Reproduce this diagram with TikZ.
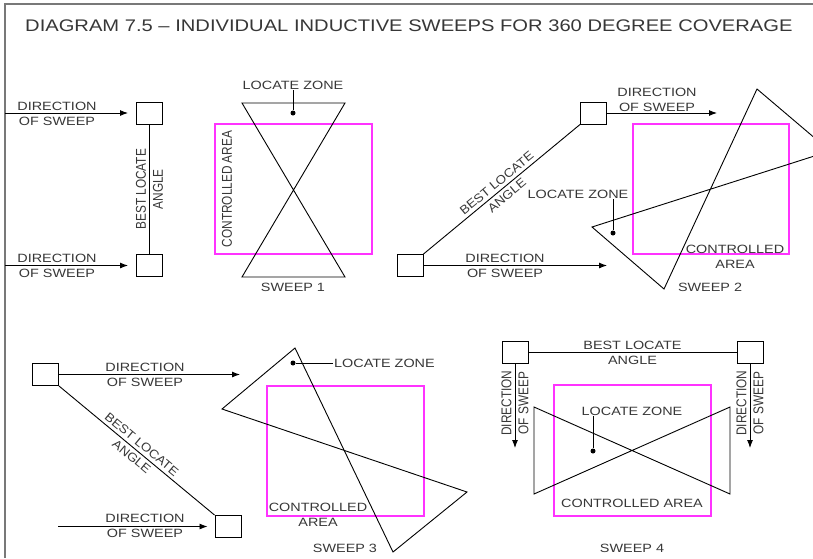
\documentclass[tikz,border=0pt]{standalone}
\usepackage{fontspec}
\setmainfont{Liberation Sans}[FakeStretch=1.2]
\newfontfamily\uprightfont{Liberation Sans}[FakeStretch=0.833]
\newfontfamily\slopefont{Liberation Sans}[FakeStretch=1.1]
\usepackage{tikz}
\usetikzlibrary{positioning,arrows.meta,calc}
\definecolor{FrameGrey}{RGB}{120,120,120}
\definecolor{TextGrey}{RGB}{55,55,55}
\definecolor{AreaMagenta}{RGB}{255,51,255}

\begin{document}
\begin{tikzpicture}[x=1pt, y=-1pt,
  every node/.style={font=\fontsize{12}{15}\selectfont, text=TextGrey, align=center, inner sep=1pt},
  title/.style={font=\fontsize{16.8}{19}\selectfont, anchor=base west},
  upright/.style={rotate=90, font=\uprightfont\fontsize{14.2}{17}\selectfont},
  slope/.style={sloped, font=\slopefont\fontsize{12.2}{16}\selectfont},
  sensor/.style={draw, line width=1pt, minimum width=26pt, minimum height=22pt, inner sep=0pt},
  area/.style={draw=AreaMagenta, line width=1.4pt},
  zone/.style={draw, line width=0.9pt, line join=miter},
  arrow/.style={-{Latex[length=8pt,width=6pt]}, line width=0.9pt},
  link/.style={line width=0.9pt},
  dot/.style={circle, fill=black, inner sep=0pt, minimum size=5pt}
]
\useasboundingbox (0,0) rectangle (813,558);

% Frame and title
\draw[FrameGrey, line width=1.6pt] (5,558) -- (5,4) -- (813,4);
\node[title] (ttl) at (24,31) {DIAGRAM 7.5 – INDIVIDUAL INDUCTIVE SWEEPS FOR 360 DEGREE COVERAGE};

% Sweep 1
\node[sensor] (s1top) at (149.5,113) {};
\node[sensor] (s1bot) at (149.5,265.5) {};
\coordinate (s1in1) at (5,113);
\coordinate (s1in2) at (5,265.5);
\draw[link] (s1bot) -- (s1top) node[midway, upright] {BEST LOCATE\\ANGLE};
\draw[arrow, shorten >=8pt] (s1in1) -- (s1top);
\draw[arrow, shorten >=8pt] (s1in2) -- (s1bot);
\node (s1dir1) at (57,113.5) {DIRECTION\\OF SWEEP};
\node (s1dir2) at (57,265.5) {DIRECTION\\OF SWEEP};
\draw[area] (215,124) rectangle (372,254);
\draw[zone] (242,103) -- (345,103) -- (242,277) -- (345,277) -- cycle;
\node (s1lz) at (293,85) {LOCATE ZONE};
\node[dot] (s1dot) at (293,113) {};
\draw[link] (s1lz) -- (s1dot);
\node[upright] (s1ca) at (227,189) {CONTROLLED AREA};
\node (s1name) at (293,287) {SWEEP 1};

% Sweep 2
\node[sensor] (s2low) at (410,265.5) {};
\node[sensor] (s2high) at (593.5,113) {};
\coordinate (s2out1) at (717,113);
\coordinate (s2out2) at (607,265.5);
\draw[link] (s2low.north east) -- (s2high.south west) node[midway, slope] {BEST LOCATE\\ANGLE};
\draw[arrow] (s2high) -- (s2out1);
\draw[arrow] (s2low) -- (s2out2);
\node (s2dir1) at (657,99.5) {DIRECTION\\OF SWEEP};
\node (s2dir2) at (505,265.5) {DIRECTION\\OF SWEEP};
\draw[area] (633,124) rectangle (789,254);
\begin{scope}
  \clip (0,0) rectangle (813,558);
  \draw[zone] (757,89) -- (830,151) -- (592,227) -- (664,289) -- cycle;
\end{scope}
\node (s2lz) at (578,194) {LOCATE ZONE};
\node[dot] (s2dot) at (613,233) {};
\draw[link] (s2lz.south -| s2dot) -- (s2dot);
\node (s2ca) at (735,256.5) {CONTROLLED\\AREA};
\node (s2name) at (710,287) {SWEEP 2};

% Sweep 3
\node[sensor] (s3high) at (45.5,374.5) {};
\node[sensor] (s3low) at (228,526.5) {};
\coordinate (s3out) at (240,374.5);
\coordinate (s3in) at (58,526.5);
\draw[link] (s3high.south east) -- (s3low.north west) node[midway, slope] {BEST LOCATE\\ANGLE};
\draw[arrow] (s3high) -- (s3out);
\draw[arrow, shorten >=7pt] (s3in) -- (s3low);
\node (s3dir1) at (145,374.5) {DIRECTION\\OF SWEEP};
\node (s3dir2) at (145,525.5) {DIRECTION\\OF SWEEP};
\draw[area] (267,386) rectangle (424,516);
\draw[zone] (295,348) -- (222,409) -- (467,492) -- (393,552) -- cycle;
\node[dot] (s3dot) at (293,363) {};
\node[anchor=west] (s3lz) at (333,363) {LOCATE ZONE};
\draw[link] (s3dot) -- (s3lz.west);
\node (s3ca) at (318,515) {CONTROLLED\\AREA};
\node (s3name) at (345,548) {SWEEP 3};

% Sweep 4
\node[sensor] (s4left) at (515,352.5) {};
\node[sensor] (s4right) at (750,352.5) {};
\coordinate (s4down1) at (515,448);
\coordinate (s4down2) at (750,448);
\draw[link] (s4left) -- (s4right) node[midway] {BEST LOCATE\\ANGLE};
\draw[arrow] (s4left) -- (s4down1);
\draw[arrow] (s4right) -- (s4down2);
\node[upright] (s4dir1) at (515,403) {DIRECTION\\OF SWEEP};
\node[upright] (s4dir2) at (750,403) {DIRECTION\\OF SWEEP};
\draw[area] (554,385) rectangle (711,516);
\draw[zone] (534,407) -- (730,494) -- (730,407) -- (534,494) -- cycle;
\node (s4lz) at (632,411) {LOCATE ZONE};
\node[dot] (s4dot) at (593,451) {};
\draw[link] (s4lz.south -| s4dot) -- (s4dot);
\node (s4ca) at (632,503) {CONTROLLED AREA};
\node (s4name) at (632,548) {SWEEP 4};
\end{tikzpicture}
\end{document}
